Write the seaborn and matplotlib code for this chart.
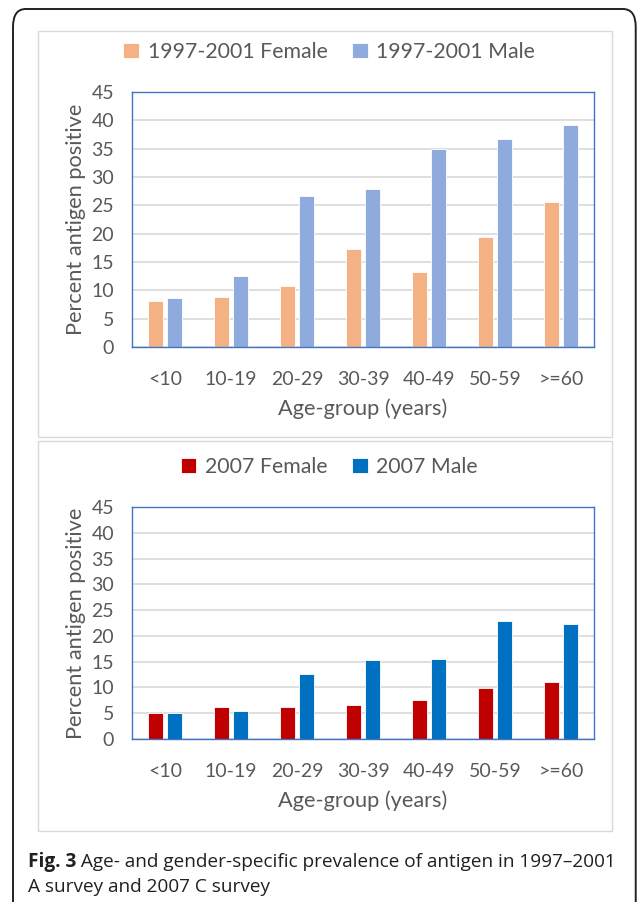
import numpy as np
import pandas as pd
import matplotlib
matplotlib.use("Agg")
import matplotlib.pyplot as plt
from matplotlib.patches import FancyBboxPatch, Rectangle
import seaborn as sns

# data
age_groups = ["<10", "10-19", "20-29", "30-39", "40-49", "50-59", ">=60"]
female_9701 = [8.1, 8.8, 10.7, 17.3, 13.3, 19.4, 25.6]
male_9701 = [8.7, 12.6, 26.7, 27.8, 34.9, 36.7, 39.2]
female_2007 = [5.0, 6.2, 6.2, 6.6, 7.5, 9.9, 11.0]
male_2007 = [5.0, 5.5, 12.6, 15.3, 15.6, 22.8, 22.3]

sns.set_theme(style="white")
plt.rcParams["font.family"] = ["Lato", "DejaVu Sans"]

TXT = "#595959"
W, H = 637, 902
fig = plt.figure(figsize=(W / 100, H / 100), dpi=100)


def px_axes(x0, y0, x1, y1):
    # pixel box (top-left origin) -> figure axes
    return fig.add_axes([x0 / W, 1 - y1 / H, (x1 - x0) / W, (y1 - y0) / H])


def draw_panel(ax, female, male, labels, colors, legend_y):
    df = pd.DataFrame({
        "age": age_groups * 2,
        "value": female + male,
        "group": [labels[0]] * len(age_groups) + [labels[1]] * len(age_groups),
    })
    sns.barplot(data=df, x="age", y="value", hue="group", order=age_groups,
                hue_order=labels, palette=dict(zip(labels, colors)),
                width=0.566, gap=0.2, saturation=1, edgecolor="white",
                linewidth=0.6, ax=ax, legend=True)
    ax.set_ylim(0, 45)
    ax.set_yticks(range(0, 46, 5))
    ax.yaxis.grid(True, color="#D9D9D9", lw=1.2)
    ax.set_axisbelow(True)
    for s in ax.spines.values():
        s.set_visible(True)
        s.set_color("#4472C4")
        s.set_linewidth(1.0)
    ax.tick_params(axis="both", length=0, colors=TXT, labelsize=14)
    ax.tick_params(axis="x", pad=17)
    ax.tick_params(axis="y", pad=13)
    ax.set_xlabel("Age-group (years)", fontsize=15.7, color=TXT, labelpad=8)
    ax.set_ylabel("Percent antigen positive", fontsize=15.7, color=TXT, labelpad=4)
    handles, lbls = ax.get_legend_handles_labels()
    leg = ax.legend(handles, lbls, ncol=2, frameon=False, loc="center",
                    fontsize=15.3, labelcolor=TXT, handlelength=0.75,
                    handleheight=0.75, handletextpad=0.4, columnspacing=1.15)
    leg.set_bbox_to_anchor((0.517, 1 - legend_y / H), transform=fig.transFigure)


# outer rounded frame and the two light panel boxes
fig.patches.append(FancyBboxPatch((13 / W, -0.05), 0.998 - 13 / W, 1 - 9 / H + 0.05,
                                  boxstyle="round,pad=0,rounding_size=0.02",
                                  transform=fig.transFigure, fill=False,
                                  ec="#222222", lw=1.4))
for (y0, y1) in [(31, 437), (441, 831)]:
    fig.patches.append(Rectangle((38 / W, 1 - y1 / H), (612 - 38) / W, (y1 - y0) / H,
                                 transform=fig.transFigure, fill=False,
                                 ec="#D9D9D9", lw=1.0))

ax1 = px_axes(132, 92, 594, 347)
draw_panel(ax1, female_9701, male_9701, ["1997-2001 Female", "1997-2001 Male"],
           ["#F4B183", "#8FAADC"], 52)

ax2 = px_axes(132, 507, 594, 739)
draw_panel(ax2, female_2007, male_2007, ["2007 Female", "2007 Male"],
           ["#C00000", "#0070C0"], 467)

# caption
cap_font = ["Open Sans", "DejaVu Sans"]
cap = fig.text(28 / W, 1 - 862 / H, "Fig. 3", fontsize=13.7, fontweight="bold",
               color="#231F20", va="center", family=cap_font)
plt.annotate(" Age- and gender-specific prevalence of antigen in 1997\u20132001",
             xy=(1, 0.5), xycoords=cap, va="center", ha="left", fontsize=13.7,
             color="#231F20", family=cap_font, annotation_clip=False)
fig.text(28 / W, 1 - 887 / H, "A survey and 2007 C survey", fontsize=13.7,
         color="#231F20", va="center", family=cap_font)

fig.savefig("out.png", dpi=100)
